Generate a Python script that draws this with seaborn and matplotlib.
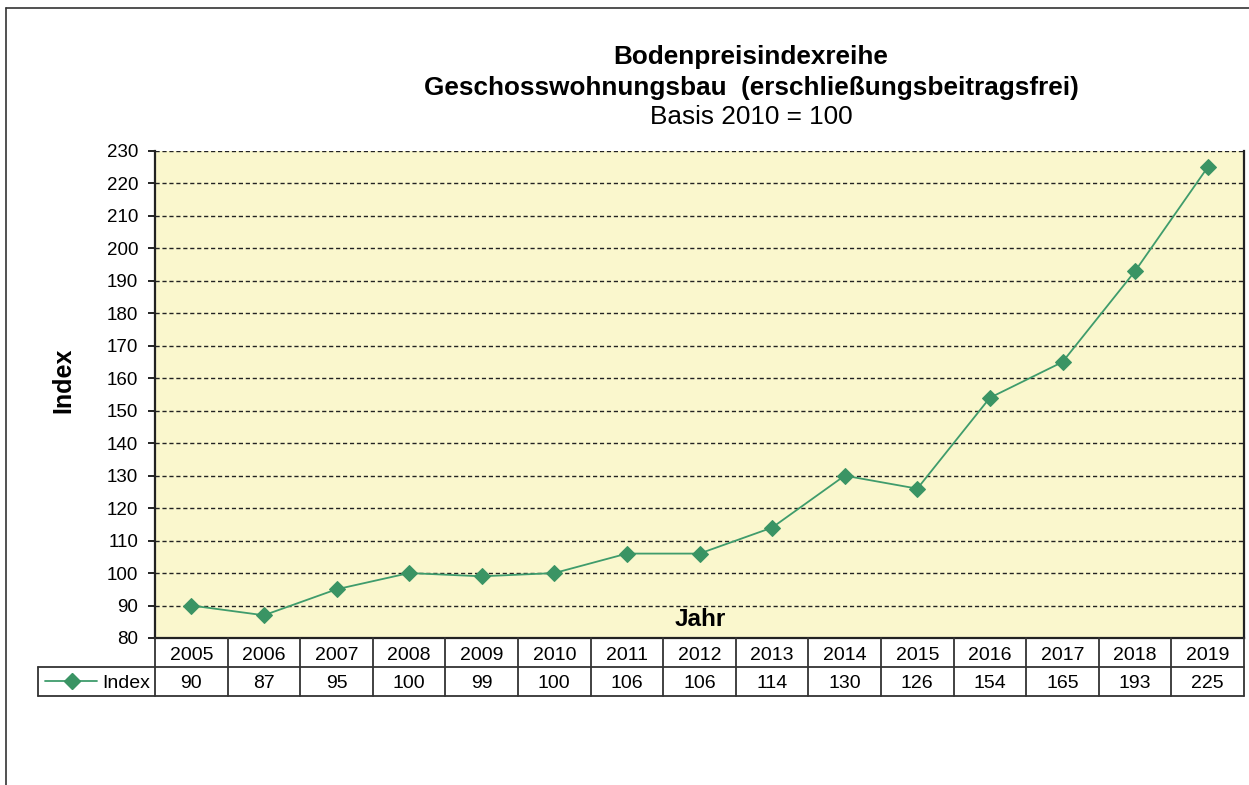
import matplotlib
matplotlib.use("Agg")
import matplotlib.pyplot as plt
from matplotlib.lines import Line2D
import seaborn as sns
import pandas as pd

years = ["2005", "2006", "2007", "2008", "2009", "2010", "2011", "2012",
         "2013", "2014", "2015", "2016", "2017", "2018", "2019"]
index_values = [90, 87, 95, 100, 99, 100, 106, 106, 114, 130, 126, 154, 165, 193, 225]
series_name = "Index"
y_ticks = list(range(80, 231, 10))

title_lines = ["Bodenpreisindexreihe", "Geschosswohnungsbau  (erschließungsbeitragsfrei)"]
subtitle = "Basis 2010 = 100"

sns.set_theme(style="white")
plt.rcParams["font.family"] = ["Liberation Sans", "DejaVu Sans"]
plt.rcParams["text.color"] = "black"
plt.rcParams["ytick.color"] = "black"

W, H = 1249, 785
fig = plt.figure(figsize=(W / 100, H / 100), dpi=100)

def fx(px):
    return px / W

def fy(py):
    return 1 - py / H

L, R, T, B = 155, 1244, 151, 638
ax = fig.add_axes([fx(L), fy(B), fx(R - L), (B - T) / H])
ax.set_facecolor("#FAF7CD")

df = pd.DataFrame({"pos": range(len(years)), "val": index_values})
green = "#3F9C6C"
sns.lineplot(data=df, x="pos", y="val", ax=ax, color=green, linewidth=1.3,
             marker="D", markersize=8, markerfacecolor="#3A9464",
             markeredgecolor="#3A9464", zorder=5)

ax.set_xlim(-0.5, len(years) - 0.5)
ax.set_ylim(80, 230)
ax.set_yticks(y_ticks)
ax.set_yticklabels([str(v) for v in y_ticks], fontsize=13.5, color="black")
ax.set_xticks([])
ax.set_xlabel("")
ax.set_ylabel("")
for v in y_ticks[1:]:
    ax.axhline(v, color="#222222", linestyle=(0, (3, 2)), linewidth=1.0, zorder=1)
ax.tick_params(axis="y", direction="out", length=5, width=1.2, color="black",
               left=True, pad=7)
for s in ["left", "bottom", "right"]:
    ax.spines[s].set_color("#222222")
    ax.spines[s].set_linewidth(1.6)
ax.spines["top"].set_visible(False)

fig.text(fx(700), fy(619), "Jahr", ha="center", va="center",
         fontsize=17.5, fontweight="bold")

# Titles
fig.text(fx(751), fy(57), title_lines[0], ha="center", va="center",
         fontsize=18.8, fontweight="bold")
fig.text(fx(751), fy(88), title_lines[1], ha="center", va="center",
         fontsize=18.8, fontweight="bold")
fig.text(fx(751), fy(117), subtitle, ha="center", va="center", fontsize=18.8)

fig.text(fx(63), fy(380), "Index", rotation=90, ha="center", va="center",
         fontsize=18, fontweight="bold")

# Data table below the axes
row1_top, row_mid, row2_bot = 638, 667, 696
lc = "#333333"
col_w = (R - L) / len(years)
def hline(x0, x1, y, lw=1.3):
    fig.add_artist(Line2D([fx(x0), fx(x1)], [fy(y), fy(y)], transform=fig.transFigure,
                          color=lc, linewidth=lw))
def vline(x, y0, y1, lw=1.3):
    fig.add_artist(Line2D([fx(x), fx(x)], [fy(y0), fy(y1)], transform=fig.transFigure,
                          color=lc, linewidth=lw))

hline(38, R, row_mid)
hline(38, R, row2_bot)
vline(38, row_mid, row2_bot)
for k in range(len(years) + 1):
    vline(L + k * col_w, row1_top, row2_bot)

for k, (yr, v) in enumerate(zip(years, index_values)):
    cx = L + (k + 0.5) * col_w
    fig.text(fx(cx), fy(655), yr, ha="center", va="center", fontsize=14)
    fig.text(fx(cx), fy(684), str(v), ha="center", va="center", fontsize=14)

# legend key in table
fig.add_artist(Line2D([fx(45), fx(97)], [fy(681), fy(681)], transform=fig.transFigure,
                      color=green, linewidth=1.3))
fig.add_artist(Line2D([fx(71.5)], [fy(681)], transform=fig.transFigure, marker="D",
                      markersize=8, color="#3A9464", linestyle="none"))
fig.text(fx(102), fy(684), series_name, ha="left", va="center", fontsize=14)

# outer frame
hline(6, W + 5, 8, lw=1.2)
vline(6, 8, H + 5, lw=1.2)

fig.savefig("out.png", dpi=100)
